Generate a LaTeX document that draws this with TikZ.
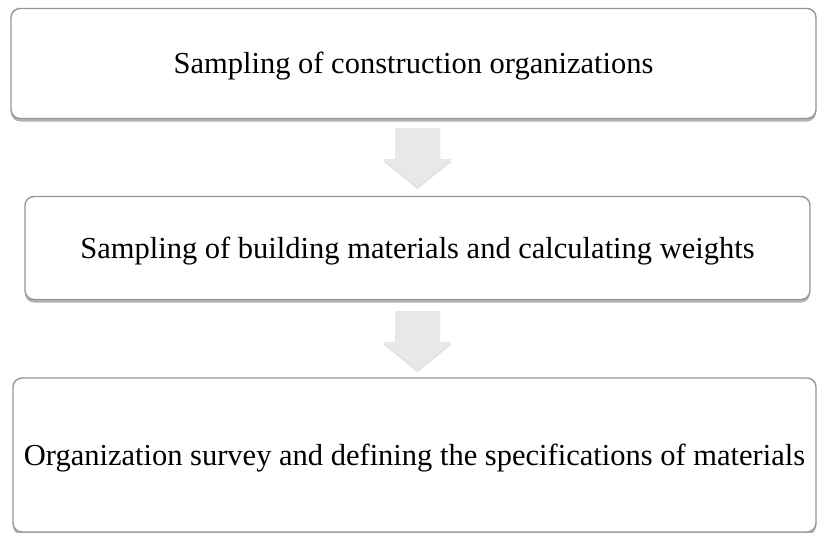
\documentclass[tikz,border=0pt]{standalone}
\usepackage{fontspec}
\setmainfont{Liberation Serif}
\usetikzlibrary{shadows}
\definecolor{boxborder}{RGB}{150,150,150}
\definecolor{arrowfill}{RGB}{232,232,232}
\tikzset{
  stepbox/.style={draw=boxborder, line width=1.4pt, fill=white, rounded corners=9pt,
    drop shadow={shadow xshift=0pt, shadow yshift=-3pt, fill=black, opacity=0.3},
    align=center, inner sep=0pt, text height=20pt, text depth=0pt,
    font=\fontsize{30.5}{36}\selectfont},
  arrowbody/.style={fill=arrowfill, draw=none,
    drop shadow={shadow xshift=0pt, shadow yshift=-2pt, fill=black, opacity=0.12}},
  pics/blockarrow/.style={code={
    \path[arrowbody] (-22.5,0) -- (22.5,0) -- (22.5,31) -- (34.5,31) -- (0,59)
      -- (-34.5,31) -- (-22.5,31) -- cycle;
  }}
}
\begin{document}
\begin{tikzpicture}[x=1pt, y=-1pt]
\useasboundingbox (0,0) rectangle (817,533);
\clip (0,0) rectangle (817,533);
\node[stepbox, minimum width=805pt, minimum height=110pt] (b1) at (413.5,63.5) {Sampling of construction organizations};
\node[stepbox, minimum width=785pt, minimum height=103pt] (b2) at (417.5,248) {Sampling of building materials and calculating weights};
\node[stepbox, minimum width=803pt, minimum height=154pt] (b3) at (414.5,455) {Organization survey and defining the specifications of materials};
\coordinate (a1) at (417.5,128);
\coordinate (a2) at (417.5,311);
\pic at (a1) {blockarrow};
\pic at (a2) {blockarrow};
\end{tikzpicture}
\end{document}
